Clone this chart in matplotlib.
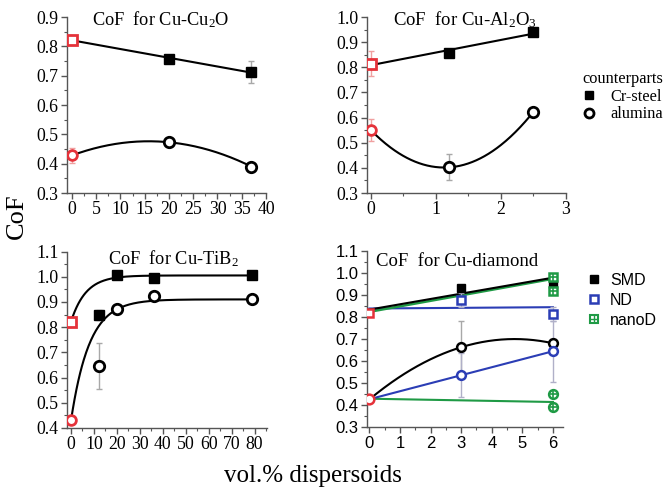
import numpy as np
import matplotlib
matplotlib.use('Agg')
import matplotlib.pyplot as plt
from matplotlib.ticker import MultipleLocator, FormatStrFormatter
from matplotlib.lines import Line2D
from matplotlib.legend_handler import HandlerTuple

plt.rcParams['font.family'] = ['Liberation Serif', 'DejaVu Serif']
plt.rcParams['mathtext.fontset'] = 'custom'
plt.rcParams['mathtext.rm'] = 'Liberation Serif'
plt.rcParams['mathtext.it'] = 'Liberation Serif:italic'

# ---------------- data ----------------
cu2o_x = [0, 20, 37]
cu2o_steel = [0.822, 0.758, 0.712]
cu2o_steel_err = [0.008, 0.006, 0.038]
cu2o_alu = [0.428, 0.473, 0.390]
cu2o_alu_err = [0.027, 0.006, 0.006]

al2o3_x = [0, 1.2, 2.5]
al2o3_steel = [0.814, 0.858, 0.939]
al2o3_steel_err = [0.05, 0.012, 0.008]
al2o3_alu = [0.55, 0.402, 0.623]
al2o3_alu_err = [0.045, 0.052, 0.008]

tib2_x = [0, 12, 20, 36, 79]
tib2_steel = [0.822, 0.848, 1.006, 0.996, 1.007]
tib2_steel_err = [0.01, 0.02, 0.008, 0.008, 0.008]
tib2_alu = [0.430, 0.646, 0.870, 0.925, 0.912]
tib2_alu_err = [0.01, 0.09, 0.01, 0.01, 0.01]
# exponential fit parameters: plateau, value at 0, decay constant
tib2_steel_fit = [1.005, 0.822, 6.5]
tib2_alu_fit = [0.910, 0.430, 8.0]

dia_ref_x = [0]
dia_ref_steel = [0.821]
dia_ref_alu = [0.427]
dia_x = [3, 6]
dia_smd_steel = [0.932, 0.950]
dia_nd_steel = [0.879, 0.815]
dia_nd_steel_err = [0.03, 0.03]
dia_nanod_x = [6, 6]
dia_nanod_steel = [0.985, 0.918]
dia_smd_alu = [0.664, 0.682]
dia_smd_alu_err = [0.12, 0.02]
dia_nd_alu = [0.538, 0.645]
dia_nd_alu_err = [0.10, 0.14]
dia_nanod_alu = [0.450, 0.394]
# straight fit lines (values at x=0 and x=6)
dia_fit_x = [0, 6]
dia_smd_steel_fit = [0.835, 0.980]
dia_nd_steel_fit = [0.840, 0.846]
dia_nanod_steel_fit = [0.825, 0.975]
dia_nanod_alu_fit = [0.430, 0.415]

# ---------------- style ----------------
RED = '#e5323a'
BLUE = '#2b3db5'
GREEN = '#1f9a45'
GRAY = '#a8a8a8'
SPINE = '#555555'
SERIF = 'Liberation Serif'
SANS = 'Liberation Sans'

fig = plt.figure(figsize=(6.65, 5.01), dpi=100)

def setup(ax, xlim, ylim, xmaj, xmin, ymaj, ymin, sans=False):
    ax.set_xlim(*xlim)
    ax.set_ylim(*ylim)
    for s in ['top', 'right']:
        ax.spines[s].set_visible(False)
    for s in ['left', 'bottom']:
        ax.spines[s].set_color(SPINE)
        ax.spines[s].set_linewidth(1.0)
    ax.xaxis.set_major_locator(MultipleLocator(xmaj))
    ax.xaxis.set_minor_locator(MultipleLocator(xmin))
    ax.yaxis.set_major_locator(MultipleLocator(ymaj))
    ax.yaxis.set_minor_locator(MultipleLocator(ymin))
    ax.yaxis.set_major_formatter(FormatStrFormatter('%.1f'))
    ax.tick_params(which='major', direction='out', length=4, width=1, color=SPINE,
                   labelsize=12 if sans else 12.8, pad=2,
                   labelfontfamily=SANS if sans else SERIF)
    ax.tick_params(which='minor', direction='out', length=2.5, width=0.8, color=SPINE)
    ax.patch.set_alpha(0)

def pts(ax, x, y, err, marker, filled, color, ecolor, ms=7.5, mew=2.0, z=5):
    ax.errorbar(x, y, yerr=err, fmt='none', ecolor=ecolor, elinewidth=1.0,
                capsize=2.5, capthick=1.0, zorder=z - 1)
    ax.plot(x, y, ls='none', marker=marker, ms=ms,
            mfc=color if filled else 'white', mec=color, mew=mew, zorder=z)

# ---------- panel 1: Cu-Cu2O ----------
ax1 = fig.add_axes([67/665, 1-193/501, 199/665, 176/501])
setup(ax1, (-1.0, 40), (0.3, 0.9), 5, 2.5, 0.1, 0.05)
xx = np.linspace(0, 37, 200)
p = np.polyfit(cu2o_x, cu2o_steel, 1)
ax1.plot(xx, np.polyval(p, xx), color='k', lw=1.5, zorder=3)
p = np.polyfit(cu2o_x, cu2o_alu, 2)
ax1.plot(xx, np.polyval(p, xx), color='k', lw=1.5, zorder=3)
pts(ax1, cu2o_x[1:], cu2o_steel[1:], cu2o_steel_err[1:], 's', True, 'k', GRAY, ms=7.5, mew=1)
pts(ax1, cu2o_x[1:], cu2o_alu[1:], cu2o_alu_err[1:], 'o', False, 'k', GRAY, ms=7.5, mew=2)
pts(ax1, cu2o_x[:1], cu2o_steel[:1], cu2o_steel_err[:1], 's', False, RED, '#f0a0a0', ms=6.5, mew=2)
pts(ax1, cu2o_x[:1], cu2o_alu[:1], cu2o_alu_err[:1], 'o', False, RED, '#f0a0a0', ms=7, mew=2)
ax1.text(0.47, 0.985, 'CoF  for Cu-Cu$_2$O', transform=ax1.transAxes, ha='center',
         va='center', fontsize=13.2, family=SERIF)

# ---------- panel 2: Cu-Al2O3 ----------
ax2 = fig.add_axes([367/665, 1-193/501, 199/665, 176/501])
setup(ax2, (-0.06, 3.0), (0.3, 1.0), 1, 0.5, 0.1, 0.05)
xx = np.linspace(0, 2.5, 200)
p = np.polyfit(al2o3_x, al2o3_steel, 1)
ax2.plot(xx, np.polyval(p, xx), color='k', lw=1.5, zorder=3)
p = np.polyfit(al2o3_x, al2o3_alu, 2)
ax2.plot(xx, np.polyval(p, xx), color='k', lw=1.5, zorder=3)
pts(ax2, al2o3_x[1:], al2o3_steel[1:], al2o3_steel_err[1:], 's', True, 'k', GRAY, ms=7.5, mew=1)
pts(ax2, al2o3_x[1:], al2o3_alu[1:], al2o3_alu_err[1:], 'o', False, 'k', GRAY, ms=7.5, mew=2)
pts(ax2, al2o3_x[:1], al2o3_steel[:1], al2o3_steel_err[:1], 's', False, RED, '#f0a0a0', ms=6.5, mew=2)
pts(ax2, al2o3_x[:1], al2o3_alu[:1], al2o3_alu_err[:1], 'o', False, RED, '#f0a0a0', ms=7, mew=2)
ax2.text(0.49, 0.985, 'CoF  for Cu-Al$_2$O$_3$', transform=ax2.transAxes, ha='center',
         va='center', fontsize=13.5, family=SERIF)

# ---------- panel 3: Cu-TiB2 ----------
ax3 = fig.add_axes([67/665, 1-428/501, 200/665, 176.5/501])
setup(ax3, (-1.75, 85.4), (0.4, 1.1), 10, 5, 0.1, 0.05)
xx = np.linspace(0, 79, 300)
for fit in (tib2_steel_fit, tib2_alu_fit):
    a, y0, tau = fit
    ax3.plot(xx, a - (a - y0) * np.exp(-xx / tau), color='k', lw=1.5, zorder=3)
pts(ax3, tib2_x[1:], tib2_steel[1:], tib2_steel_err[1:], 's', True, 'k', GRAY, ms=7.5, mew=1)
pts(ax3, tib2_x[1:], tib2_alu[1:], tib2_alu_err[1:], 'o', False, 'k', GRAY, ms=7.5, mew=2)
pts(ax3, tib2_x[:1], tib2_steel[:1], tib2_steel_err[:1], 's', False, RED, '#f0a0a0', ms=6.5, mew=2)
pts(ax3, tib2_x[:1], tib2_alu[:1], tib2_alu_err[:1], 'o', False, RED, '#f0a0a0', ms=7, mew=2)
ax3.text(0.53, 0.958, 'CoF  for Cu-TiB$_2$', transform=ax3.transAxes, ha='center',
         va='center', fontsize=13.2, family=SERIF)

# ---------- panel 4: Cu-diamond ----------
ax4 = fig.add_axes([367/665, 1-427.3/501, 196/665, 176/501])
setup(ax4, (-0.08, 6.33), (0.3, 1.1), 1, 0.5, 0.1, 0.05, sans=True)
ax4.plot(dia_fit_x, dia_nd_steel_fit, color=BLUE, lw=1.5, zorder=3)
ax4.plot(dia_fit_x, dia_nanod_steel_fit, color=GREEN, lw=1.8, zorder=3)
ax4.plot(dia_fit_x, dia_smd_steel_fit, color='k', lw=1.5, zorder=3)
ax4.plot(dia_fit_x, dia_nanod_alu_fit, color=GREEN, lw=1.5, zorder=3)
xx = np.linspace(0, 6, 200)
p = np.polyfit(dia_ref_x + dia_x, dia_ref_alu + dia_smd_alu, 2)
ax4.plot(xx, np.polyval(p, xx), color='k', lw=1.5, zorder=3)
p = np.polyfit(dia_ref_x + dia_x, dia_ref_alu + dia_nd_alu, 1)
ax4.plot(xx, np.polyval(p, xx), color=BLUE, lw=1.5, zorder=3)

ms4 = 6.3
pts(ax4, dia_x, dia_smd_alu, dia_smd_alu_err, 'o', False, 'k', GRAY, ms=ms4, mew=1.8)
pts(ax4, dia_x, dia_nd_alu, dia_nd_alu_err, 'o', False, BLUE, '#b0b0c8', ms=ms4, mew=1.8)
pts(ax4, dia_x, dia_nd_steel, dia_nd_steel_err, 's', False, BLUE, '#b0b0c8', ms=ms4, mew=1.8)
pts(ax4, dia_x, dia_smd_steel, None, 's', True, 'k', GRAY, ms=ms4, mew=1)
ax4.plot(dia_nanod_x, dia_nanod_steel, ls='none', marker='s', ms=ms4, mfc='white',
         mec=GREEN, mew=1.8, zorder=6)
ax4.plot(dia_nanod_x, dia_nanod_steel, ls='none', marker='+', ms=ms4, mec=GREEN,
         mew=1.2, zorder=7)
ax4.plot(dia_nanod_x, dia_nanod_alu, ls='none', marker='o', ms=ms4, mfc='white',
         mec=GREEN, mew=1.8, zorder=6)
ax4.plot(dia_nanod_x, dia_nanod_alu, ls='none', marker='+', ms=ms4, mec=GREEN,
         mew=1.2, zorder=7)
pts(ax4, dia_ref_x, dia_ref_steel, None, 's', False, RED, RED, ms=6.3, mew=1.8)
pts(ax4, dia_ref_x, dia_ref_alu, None, 'o', False, RED, RED, ms=7, mew=1.8)
ax4.text(0.46, 0.94, 'CoF  for Cu-diamond', transform=ax4.transAxes, ha='center',
         va='center', fontsize=13.5, family=SERIF)

# ---------- legends ----------
h_steel = Line2D([], [], ls='none', marker='s', ms=6, mfc='k', mec='k')
h_alu = Line2D([], [], ls='none', marker='o', ms=6.5, mfc='white', mec='k', mew=2)
leg1 = fig.legend([h_steel, h_alu], ['Cr-steel', 'alumina'], title='counterparts',
                  loc='upper right', bbox_to_anchor=(663/665, 1-71/501), frameon=False,
                  prop={'family': SERIF, 'size': 11.8},
                  title_fontproperties={'family': SERIF, 'size': 11.8},
                  handlelength=0.8, handletextpad=0.9,
                  labelspacing=0.1, borderpad=0, borderaxespad=0, alignment='left')

h_smd = Line2D([], [], ls='none', marker='s', ms=6, mfc='k', mec='k')
h_nd = Line2D([], [], ls='none', marker='s', ms=5.5, mfc='white', mec=BLUE, mew=1.8)
h_n1 = Line2D([], [], ls='none', marker='s', ms=5.5, mfc='white', mec=GREEN, mew=1.5)
h_n2 = Line2D([], [], ls='none', marker='+', ms=5.5, mec=GREEN, mew=1.0)
leg2 = fig.legend([h_smd, h_nd, (h_n1, h_n2)], ['SMD', 'ND', 'nanoD'],
                  handler_map={tuple: HandlerTuple(ndivide=1)},
                  loc='upper left', bbox_to_anchor=(578/665, 1-265/501), frameon=False,
                  prop={'family': SANS, 'size': 11.5}, handlelength=1.0,
                  handletextpad=0.5, labelspacing=0.3, borderpad=0)

fig.text(17/665, 1-216/501, 'CoF', rotation=90, ha='center', va='center', fontsize=19,
         family=SERIF)
fig.text(313/665, 1-476/501, 'vol.% dispersoids', ha='center', va='center', fontsize=18,
         family=SERIF)

fig.savefig('out.png', dpi=100)
